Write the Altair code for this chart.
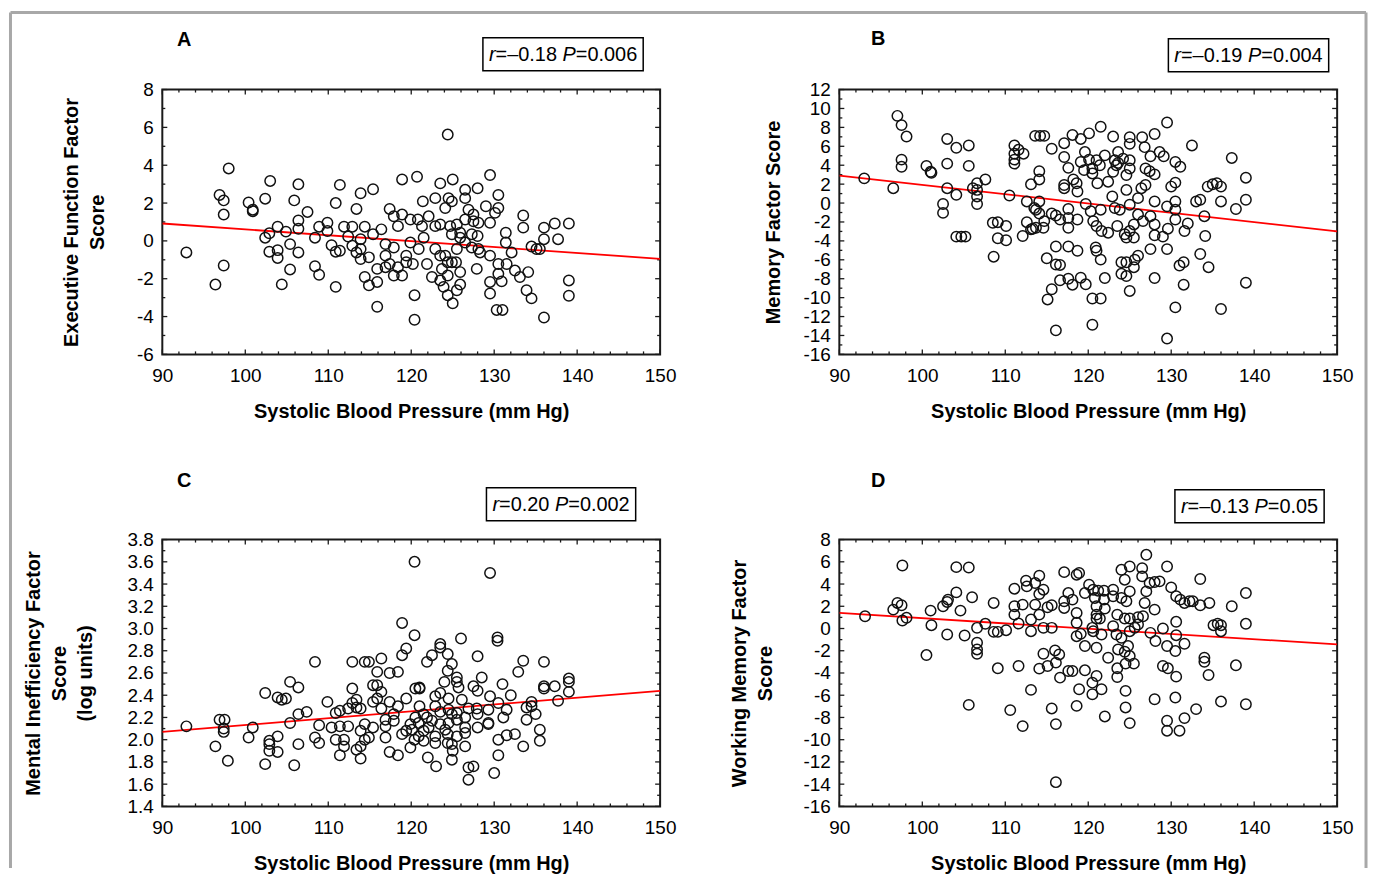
import altair as alt
import pandas as pd

FONT = "Liberation Sans"
FRAME = "#1a1a1a"

# ---------------- data ----------------
a_x = [92.9, 96.4, 96.9, 97.4, 97.4, 97.4, 98.0, 100.4, 100.9, 100.9, 102.4, 103.0, 102.4, 102.9, 102.9, 103.9, 103.9, 103.9, 104.4, 104.9,
       105.4, 105.4, 105.9, 106.4, 106.4, 106.4, 106.4, 107.5, 108.4, 108.4, 108.9, 108.9, 109.9, 109.9, 110.4, 110.9, 110.9, 110.9, 111.4, 111.4,
       111.9, 112.4, 112.9, 112.9, 113.4, 113.4, 113.9, 113.9, 113.9, 113.9, 114.4, 114.4, 114.9, 114.9, 115.4, 115.4, 115.9, 115.9, 115.9, 116.4,
       116.9, 116.9, 116.9, 117.4, 117.4, 117.9, 117.9, 117.9, 118.4, 118.4, 118.9, 118.9, 118.9, 119.4, 119.4, 119.9, 119.9, 120.4, 120.4, 120.7,
       124.4, 125.0, 129.5, 123.5, 126.5, 128.0, 122.9, 124.5, 126.5, 130.5, 121.4, 124.1, 124.9, 129.0, 130.5, 126.9, 127.5, 130.1,
       120.8, 121.3, 122.1, 122.9, 123.5, 124.7, 125.5, 125.9, 126.5, 127.5, 128.1, 129.5, 124.9, 127.3, 128.0, 121.5,
       133.5, 133.5, 131.4, 131.4, 136.0, 137.3, 139.0, 136.0, 137.7, 134.5, 135.1, 135.5, 132.1, 128.1, 128.3, 129.5, 127.9, 130.5, 131.5, 132.5,
       130.5, 133.1, 134.1, 129.5, 130.9, 133.9, 134.5, 129.5, 130.3, 131.0, 136.0, 139.0, 139.0, 120.2,
       120.9, 121.9, 122.5, 123.5, 123.9, 124.4, 125.0, 125.5, 125.9, 125.9, 124.4, 124.4, 123.7, 124.9, 122.9, 123.5, 124.1, 125.4, 126.5, 127.3,
       125.9, 125.5]
a_y = [-0.61, -2.31, 2.43, 2.14, 1.39, -1.30, 3.83, 2.03, 1.65, 1.57, 2.23, 3.17, 0.17, 0.40, -0.57, 0.75, -0.49, -0.90, -2.30, 0.49,
       -0.17, -1.51, 2.14, 2.99, 1.08, 0.64, -0.61, 1.53, 0.17, -1.34, 0.75, -1.79, 0.96, 0.52, -0.23, 2.00, -0.57, -2.43, 2.96, -0.52,
       0.75, 0.23, 0.75, -0.26, 1.69, -0.61, 2.52, 0.09, -0.43, -0.96, 0.75, -1.91, -2.35, -0.87, 2.73, 0.35, -1.48, -2.17, -3.48, 0.61,
       -0.17, -0.78, -1.39, 1.69, -1.22, 1.30, -0.35, -1.83, 0.78, -1.39, 3.25, 1.39, -1.83, -0.78, -1.13, 1.13, -0.09, -4.17, -2.87, 3.39,
       5.62, 3.25, 3.48, 3.04, 2.70, 2.78, 2.26, 2.26, 2.26, 2.43, 2.09, 1.74, 2.09, 1.83, 1.74, 1.65, 1.39, 1.48,
       1.13, 0.78, 1.30, 0.78, 0.87, 0.78, 0.87, 0.43, 1.13, 1.04, 0.96, 0.96, 0.35, 0.35, 0.26, 0.17,
       1.34, 0.70, 0.43, -0.09, 0.70, 0.92, 0.92, 0.09, 0.09, -0.30, -0.43, -0.43, -0.61, -0.43, -0.61, -0.78, -1.48, -1.22, -1.22, -1.57,
       -1.74, -1.91, -1.65, -2.17, -2.14, -2.61, -3.04, -2.78, -3.65, -3.65, -4.05, -2.09, -2.90, -1.22,
       -0.43, -1.22, -1.91, -2.09, -2.43, -2.87, -3.30, -2.61, -2.31, -1.65, -1.83, -1.13, -1.48, -1.13, -0.43, -0.78, -0.78, -1.13, -0.09, -0.35,
       0.17, -0.43]

b_x = [93.0, 96.5, 97.0, 97.5, 98.1, 97.5, 97.5, 100.5, 101.0, 101.1, 102.5, 102.5, 103.0, 103.0, 103.0, 104.1, 104.1, 104.1, 104.7, 105.2,
       105.6, 105.6, 106.1, 106.6, 106.6, 106.6, 106.6, 107.6, 108.5, 109.1, 110.1, 109.1, 110.1, 108.6, 110.5, 111.1, 111.1, 111.1, 111.6, 112.2,
       111.1, 112.1, 112.6, 112.6, 113.1, 113.1, 113.5, 113.6, 114.2, 114.7, 114.1, 114.1, 114.1, 113.7, 114.1, 114.6, 114.7, 113.7, 113.3, 115.6,
       115.6, 116.1, 116.6, 116.1, 115.0, 116.1, 116.6, 116.6, 115.6, 115.1, 116.1, 117.1, 118.1, 119.1, 120.1, 117.1, 117.6, 118.2, 117.1, 117.1,
       118.6, 118.7, 119.6, 119.1, 120.1, 120.5, 119.5, 117.6, 117.6, 117.6, 118.7, 119.7, 120.3, 117.6, 118.7, 117.6, 118.1, 119.1, 119.7, 120.5,
       120.5, 120.5, 120.9,
       129.5, 121.5, 123.0, 125.0, 126.5, 125.0, 128.0, 132.5, 126.8, 123.6, 128.6, 129.1, 127.5, 122.0, 121.0, 123.2, 123.6, 124.2, 125.0, 123.4,
       121.4, 123.0, 125.0, 126.9, 127.4, 128.0, 130.5, 131.1, 137.3, 139.0, 122.4, 124.6, 121.1, 124.6, 126.4, 126.9, 130.0, 130.5, 134.4, 135.0,
       135.5, 136.0, 133.0, 133.5, 136.0, 139.0, 137.8, 134.0, 122.9, 126.0, 128.0, 129.5, 130.5, 130.5, 130.5, 121.5, 123.2, 123.8, 125.0, 120.6,
       121.0, 121.6, 122.4, 123.5, 124.4, 125.0, 125.5, 125.5, 124.6, 126.0, 126.6, 127.5, 128.0, 128.0, 129.0, 129.6, 131.6, 132.0, 134.1, 121.0,
       121.5, 124.0, 124.6, 125.6, 126.0, 125.5, 124.0, 124.6, 127.5, 129.5, 131.0, 131.5, 133.5, 134.5, 122.0, 128.0, 131.5, 139.0, 125.0, 121.5,
       130.5, 136.0, 129.5]
b_y = [2.61, 1.57, 9.22, 8.24, 7.03, 4.59, 3.83, 3.93, 3.30, 3.20, -0.10, -1.04, 6.78, 4.17, 1.57, 5.84, 0.87, -3.55, -3.55, -3.55,
       6.09, 3.93, 1.57, 2.09, 1.39, 0.70, -0.10, 2.50, -2.09, -2.02, -2.43, -3.72, -3.93, -5.67, 0.80, 6.09, 5.22, 4.17, 5.63, 5.22,
       4.59, -3.48, 0.17, -2.02, 1.98, -2.78, -0.52, 7.10, 7.10, 7.10, 3.37, 2.50, 0.17, -0.70, -1.11, -2.61, -1.91, -2.61, -2.71, 5.74,
       -1.11, -1.32, -1.74, -4.59, -5.84, -6.50, -6.54, -8.17, -9.11, -10.19, -13.46, 6.33, 7.20, 6.78, 7.37, 4.87, 3.72, 2.50, 1.91, 1.57,
       2.09, 1.22, 5.39, 4.35, 4.59, 3.65, 3.48, -0.63, -1.57, -2.61, -1.74, -0.10, -0.87, -4.59, -5.04, -8.00, -8.63, -7.90, -8.59, -10.09,
       -12.87, 3.13, -4.70,
       8.52, 8.07, 7.03, 6.96, 6.96, 6.26, 7.30, 6.09, 5.91, 5.39, 5.39, 4.94, 4.94, 5.04, 4.52, 4.52, 4.24, 4.70, 4.52, 4.00,
       4.00, 3.30, 3.65, 3.65, 3.37, 3.03, 4.35, 3.83, 4.77, 2.68, 2.26, 2.96, 2.09, 1.39, 1.57, 1.91, 1.74, 2.16, 1.74, 1.98,
       2.09, 1.74, 0.17, 0.35, 0.17, 0.35, -0.63, -1.39, 0.70, 0.52, 0.17, -0.35, 0.17, -0.70, -1.74, -0.70, -0.52, -0.70, -0.17, -1.91,
       -2.43, -2.96, -3.13, -2.43, -3.30, -2.96, -2.26, -3.65, -3.65, -1.22, -1.91, -1.39, -2.26, -3.41, -3.55, -2.71, -2.96, -2.16, -3.48, -5.04,
       -5.98, -6.26, -6.26, -5.98, -5.57, -6.78, -7.48, -7.72, -4.87, -4.87, -6.61, -6.26, -5.39, -6.78, -7.93, -7.93, -8.63, -8.42, -9.29, -10.09,
       -11.03, -11.20, -14.33]

c_x = [92.9, 96.4, 96.9, 97.5, 97.4, 97.4, 97.9, 100.4, 100.9, 102.4, 102.4, 102.9, 102.9, 102.9, 103.9, 104.4, 104.9, 103.9, 103.9, 105.4,
       105.4, 105.9, 106.4, 106.4, 106.4, 107.4, 108.4, 108.4, 108.9, 108.9, 109.9, 110.4, 110.9, 110.9, 111.4, 111.4, 111.4, 111.9, 111.9, 112.4,
       112.4, 112.9, 112.9, 112.9, 113.4, 113.4, 113.4, 113.9, 113.9, 113.9, 113.9, 114.4, 114.4, 114.4, 114.9, 114.9, 115.4, 115.4, 115.4, 115.9,
       115.9, 115.9, 116.4, 116.4, 116.4, 116.9, 116.9, 116.9, 117.4, 117.4, 117.4, 117.9, 117.9, 118.4, 118.4, 118.4, 118.9, 118.9, 118.9, 119.4,
       119.4, 119.4, 119.9, 119.9, 120.4, 120.4, 120.4, 120.5, 120.5,
       129.5, 126.0, 130.4, 130.4, 123.5, 123.5, 122.5, 121.9, 124.4, 124.9, 128.0, 133.5, 136.0, 124.4, 132.9, 125.5, 124.0, 125.5, 128.5, 131.0,
       121.0, 121.0, 125.7, 127.5, 128.0, 136.0, 136.0, 137.3, 139.0, 139.0, 139.0, 132.0, 122.9, 123.5, 124.5, 126.1, 129.5, 134.5, 137.7, 121.0,
       122.9, 124.5, 126.9, 127.9, 129.3, 130.5, 133.9, 134.5, 131.5, 121.5, 121.9, 123.5, 124.9, 125.5, 126.5, 128.0, 131.1, 135.0, 120.9, 122.5,
       123.5, 124.5, 125.5, 129.3, 133.9, 120.1, 121.5, 122.1, 124.1, 126.5, 128.0, 129.3, 135.5, 120.9, 122.9, 124.4, 125.5, 126.5, 131.5, 132.5,
       121.5, 122.9, 124.4, 124.9, 130.5, 135.5, 125.0, 126.5, 133.5, 122.0, 123.0, 124.9, 130.5, 126.9, 127.5, 126.9, 130.0]
c_y = [2.12, 1.94, 2.18, 2.18, 2.10, 2.07, 1.81, 2.02, 2.11, 2.42, 1.78, 1.99, 1.96, 1.90, 2.38, 2.36, 2.37, 2.03, 1.89, 2.52,
       2.15, 1.77, 2.47, 2.23, 1.96, 2.25, 2.70, 2.02, 2.13, 1.97, 2.34, 2.11, 2.24, 2.00, 2.26, 2.12, 1.86, 2.00, 1.94, 2.28,
       2.12, 2.70, 2.46, 2.33, 2.36, 2.29, 1.91, 2.28, 2.08, 1.94, 1.83, 2.70, 2.14, 2.00, 2.70, 2.02, 2.49, 2.34, 2.11, 2.61,
       2.49, 2.37, 2.73, 2.43, 2.28, 2.18, 2.02, 2.12, 2.60, 2.34, 1.89, 2.23, 2.17, 2.61, 1.86, 2.30, 3.05, 2.76, 2.05, 2.82,
       2.37, 2.08, 2.14, 1.93, 2.94, 3.60, 2.00, 2.46, 2.20,
       3.50, 2.91, 2.92, 2.89, 2.86, 2.83, 2.76, 2.70, 2.77, 2.68, 2.75, 2.71, 2.70, 2.62, 2.61, 2.56, 2.52, 2.52, 2.56, 2.50,
       2.47, 2.46, 2.47, 2.48, 2.44, 2.48, 2.46, 2.48, 2.55, 2.52, 2.43, 2.40, 2.39, 2.42, 2.37, 2.36, 2.39, 2.34, 2.35, 2.30,
       2.30, 2.27, 2.28, 2.28, 2.27, 2.33, 2.29, 2.30, 2.27, 2.23, 2.20, 2.25, 2.23, 2.24, 2.20, 2.23, 2.20, 2.23, 2.15, 2.17,
       2.14, 2.15, 2.18, 2.15, 2.18, 2.09, 2.08, 2.11, 2.09, 2.11, 2.11, 2.14, 2.09, 2.03, 2.03, 2.05, 2.03, 2.06, 2.04, 2.05,
       1.99, 1.97, 1.97, 1.96, 2.00, 1.99, 1.90, 1.94, 1.94, 1.84, 1.76, 1.82, 1.86, 1.75, 1.76, 1.64, 1.70]

d_x = [93.1, 96.5, 97.0, 97.5, 97.6, 97.6, 98.1, 100.5, 101.0, 101.1, 102.5, 103.0, 103.1, 103.0, 104.1, 104.1, 104.6, 105.1, 105.6, 105.6,
       106.0, 106.6, 106.6, 106.6, 106.6, 107.6, 108.6, 108.6, 109.1, 110.1, 109.1, 110.6, 111.1, 111.1, 111.1, 111.6, 111.6, 112.1, 112.1, 112.5,
       112.6, 113.1, 113.1, 113.1, 113.6, 113.6, 114.1, 114.1, 114.1, 114.6, 114.6, 114.6, 114.1, 115.1, 115.1, 115.6, 115.6, 115.6, 116.0, 116.1,
       116.1, 116.1, 116.5, 116.6, 117.1, 117.1, 117.1, 117.6, 117.6, 118.1, 118.1, 118.6, 118.9, 118.6, 118.6, 118.6, 118.6, 118.9, 119.6, 119.6,
       119.6, 120.1, 120.5, 120.5, 120.5, 119.1,
       127.0, 129.5, 125.0, 124.0, 126.5, 126.5, 133.5, 124.4, 127.4, 128.0, 128.6, 130.0, 120.6, 121.2, 121.9, 123.0, 125.0, 127.0, 130.6, 131.1,
       131.6, 132.2, 132.6, 133.5, 134.6, 137.3, 139.0, 124.0, 124.6, 123.0, 120.8, 121.9, 128.0, 126.8, 121.0, 122.0, 123.5, 121.0, 121.0, 121.4,
       124.4, 125.0, 126.0, 126.6, 130.6, 135.1, 135.6, 136.0, 136.0, 139.0, 120.6, 121.6, 123.0, 123.4, 124.0, 125.0, 125.6, 126.0, 127.5, 128.1,
       129.0, 130.6, 129.5, 130.5, 131.6, 121.0, 123.6, 124.4, 124.8, 122.4, 125.0, 125.5, 124.5, 123.5, 123.5, 129.0, 129.6, 130.6, 134.0, 134.0,
       134.5, 137.8, 121.0, 121.6, 124.5, 124.5, 122.0, 125.0, 128.0, 130.5, 133.0, 129.5, 129.5, 131.0, 131.6, 136.0, 139.0]
d_y = [1.10, 1.70, 2.30, 2.09, 5.67, 0.72, 0.96, -2.39, 1.61, 0.30, 2.00, 2.39, 2.60, -0.54, 5.52, 3.25, 1.61, -0.63, 5.49, -6.87,
       2.81, 0.06, -1.28, -1.88, -2.27, 0.42, 2.30, -0.30, -0.30, -0.15, -3.58, -7.34, 2.00, 1.25, 3.58, 0.45, -3.37, 2.15, -8.78, 4.30,
       3.79, 0.81, -0.24, -5.52, 2.15, 4.09, 4.75, 3.10, 1.25, 3.49, 0.06, -2.27, -3.61, 1.91, -3.37, 2.09, 0.06, -7.19, -1.97, -8.60,
       -13.82, -3.07, -2.33, -4.42, 5.07, 2.45, 1.85, 3.19, -3.82, -3.82, 2.60, 4.84, 4.99, 1.40, 0.51, -0.69, -6.96, -5.46, -3.76, -1.58,
       3.19, 3.94, 0.06, -5.91, -4.87, -0.48,
       6.63, 5.58, 5.58, 5.28, 5.43, 4.69, 4.45, 4.39, 4.09, 4.18, 4.24, 3.70, 3.49, 3.40, 3.40, 3.49, 3.34, 3.34, 2.90, 2.60,
       2.30, 2.45, 2.45, 2.09, 2.30, 2.00, 3.19, 2.75, 2.45, 2.90, 2.75, 2.60, 1.70, 2.30, 2.00, 1.79, 1.25, 1.25, 0.90, 0.90,
       0.90, 0.90, 1.01, 1.10, 0.60, 0.30, 0.42, 0.30, -0.24, 0.42, -0.24, -0.54, 0.21, -0.54, -0.84, -0.24, 0.06, 0.36, -0.39, -1.13,
       0.00, -0.60, -1.58, -2.03, -1.37, -1.73, -1.88, -2.09, -1.58, -2.63, -2.48, -3.16, -3.16, -3.58, -4.36, -3.37, -3.58, -4.33, -2.63, -2.99,
       -4.18, -3.31, -4.27, -5.46, -5.61, -7.10, -7.91, -8.51, -6.36, -6.21, -7.25, -8.30, -9.19, -9.19, -8.06, -6.57, -6.81]

# regression lines (end points)
reg_x = [90, 150]
a_reg = [0.92, -0.95]
b_reg = [2.90, -3.00]
c_reg = [2.07, 2.44]
d_reg = [1.40, -1.43]

# ticks
x_major = [90, 100, 110, 120, 130, 140, 150]
x_minor = [v for v in range(92, 150, 2) if v % 10 != 0]
a_major = list(range(-6, 9, 2))
a_minor = list(range(-5, 8, 2))
b_major = list(range(-16, 13, 2))
b_minor = list(range(-15, 12, 2))
c_major = [1.4, 1.6, 1.8, 2.0, 2.2, 2.4, 2.6, 2.8, 3.0, 3.2, 3.4, 3.6, 3.8]
c_minor = [1.5, 1.7, 1.9, 2.1, 2.3, 2.5, 2.7, 2.9, 3.1, 3.3, 3.5, 3.7]
d_major = list(range(-16, 9, 2))
d_minor = list(range(-15, 8, 2))

# text
x_title = "Systolic Blood Pressure (mm Hg)"
a_title = ["Executive Function Factor", "Score"]
b_title = "Memory Factor Score"
c_title = ["Mental Inefficiency Factor", "Score", "(log units)"]
d_title = ["Working Memory Factor", "Score"]
a_stat = [("r", True), ("=\u20130.18 ", False), ("P", True), ("=0.006", False)]
b_stat = [("r", True), ("=\u20130.19 ", False), ("P", True), ("=0.004", False)]
c_stat = [("r", True), ("=0.20 ", False), ("P", True), ("=0.002", False)]
d_stat = [("r", True), ("=\u20130.13 ", False), ("P", True), ("=0.05", False)]

INT_EXPR = "(datum.value < 0 ? '-' : '') + format(abs(datum.value), 'd')"
DEC_EXPR = "format(datum.value, '.1f')"

W = 500
BOX_FS = 20
AW = {"r": 333, "=": 584, "\u2013": 556, ".": 278, " ": 278, "P": 667}


def text_w(s, fs):
    return sum(AW.get(ch, 556) for ch in s) * fs / 1000.0


def one():
    return alt.Data(values=[{"k": 0}])


def panel(xs, ys, reg_y, ydom, ymaj, ymin, ytitle, title_x, lab_expr,
          letter, letter_xy, stat, box_cx, box_y0, h, border=False):
    xsc = alt.Scale(domain=[90, 150], nice=False, zero=False)
    ysc = alt.Scale(domain=ydom, nice=False, zero=False)
    xaxis = alt.Axis(values=x_major, title=x_title, ticks=False, domain=False, grid=False,
                     labelPadding=12, labelFlush=False, labelOverlap=False, labelExpr=INT_EXPR,
                     titleY=57, titleBaseline="middle")
    yaxis = alt.Axis(values=ymaj, title=ytitle, ticks=False, domain=False, grid=False,
                     labelPadding=9, labelFlush=False, labelOverlap=False, labelExpr=lab_expr,
                     titleX=title_x, titleBaseline="middle", titleAlign="center", titleLineHeight=26)
    X = lambda: alt.X("sbp:Q", scale=xsc, axis=xaxis)
    Y = lambda: alt.Y("score:Q", scale=ysc, axis=yaxis)

    pts = pd.DataFrame({"sbp": xs, "score": ys})
    points = alt.Chart(pts).mark_point(shape="circle", filled=False, size=110, strokeWidth=1.5,
                                       color="#111111", opacity=1).encode(x=X(), y=Y())
    reg = alt.Chart(pd.DataFrame({"sbp": reg_x, "score": reg_y})).mark_line(
        color="#ff0000", strokeWidth=1.8, clip=True).encode(x=X(), y=Y())

    layers = [points, reg]
    for vals, L in ((x_major, 5), (x_minor, 3)):
        df = pd.DataFrame({"sbp": vals})
        layers.append(alt.Chart(df).mark_rule(color=FRAME, strokeWidth=1.3).encode(
            x=X(), y=alt.value(0), y2=alt.value(L)))
        layers.append(alt.Chart(df).mark_rule(color=FRAME, strokeWidth=1.3).encode(
            x=X(), y=alt.value(h), y2=alt.value(h - L)))
    for vals, L in ((ymaj, 5), (ymin, 3)):
        df = pd.DataFrame({"score": vals})
        layers.append(alt.Chart(df).mark_rule(color=FRAME, strokeWidth=1.3).encode(
            y=Y(), x=alt.value(0), x2=alt.value(L)))
        layers.append(alt.Chart(df).mark_rule(color=FRAME, strokeWidth=1.3).encode(
            y=Y(), x=alt.value(W), x2=alt.value(W - L)))

    # panel letter
    layers.append(alt.Chart(one()).mark_text(text=letter, font=FONT, fontSize=20, fontWeight="bold",
                                             align="center", baseline="middle", color="black").encode(
        x=alt.value(letter_xy[0]), y=alt.value(letter_xy[1])))

    # statistics box
    total = sum(text_w(s, BOX_FS) for s, _ in stat)
    bw = total + 12
    layers.append(alt.Chart(one()).mark_rect(fill="white", stroke="black", strokeWidth=1.5).encode(
        x=alt.value(box_cx - bw / 2), x2=alt.value(box_cx + bw / 2),
        y=alt.value(box_y0), y2=alt.value(box_y0 + 33)))
    cx = box_cx - total / 2
    for s, it in stat:
        layers.append(alt.Chart(one()).mark_text(text=s, font=FONT, fontSize=BOX_FS,
                                                 fontStyle="italic" if it else "normal",
                                                 align="left", baseline="middle", color="black").encode(
            x=alt.value(cx), y=alt.value(box_y0 + 17)))
        cx += text_w(s, BOX_FS)

    if border:
        gcol = "#a8a8a8"
        layers.append(alt.Chart(one()).mark_rule(color=gcol, strokeWidth=3).encode(
            x=alt.value(-152.5), x2=alt.value(1209), y=alt.value(-77.5)))
        layers.append(alt.Chart(one()).mark_rule(color=gcol, strokeWidth=3).encode(
            x=alt.value(-152.5), y=alt.value(-77.5), y2=alt.value(782)))
        layers.append(alt.Chart(one()).mark_rule(color=gcol, strokeWidth=3).encode(
            x=alt.value(1209), y=alt.value(-77.5), y2=alt.value(782)))

    # draw points/line above decorations
    order = layers[2:] + [reg, points]
    return alt.layer(*order).properties(width=W, height=h)


pa = panel(a_x, a_y, a_reg, [-6, 8], a_major, a_minor, a_title, -91, INT_EXPR,
           "A", (22, -50), a_stat, 402.5, -52, 266, border=True)
pb = panel(b_x, b_y, b_reg, [-16, 12], b_major, b_minor, b_title, -66, INT_EXPR,
           "B", (39, -51), b_stat, 411, -51, 266)
pc = panel(c_x, c_y, c_reg, [1.4, 3.8], c_major, c_minor, c_title, -129, DEC_EXPR,
           "C", (22, -59), c_stat, 400.5, -52, 268)
pd_ = panel(d_x, d_y, d_reg, [-16, 8], d_major, d_minor, d_title, -100, INT_EXPR,
            "D", (39, -59), d_stat, 412, -50, 268)

chart = alt.concat(pa, pb, pc, pd_, columns=2).properties(
    spacing={"row": 186, "column": 180}, bounds="flush", padding=0, background="white"
).configure_view(stroke=FRAME, strokeWidth=2).configure_axis(
    labelFont=FONT, labelFontSize=19, labelColor="black",
    titleFont=FONT, titleFontSize=20, titleFontWeight="bold", titleColor="black"
)

chart.save("out.html", embed_options={"renderer": "svg", "actions": False})
